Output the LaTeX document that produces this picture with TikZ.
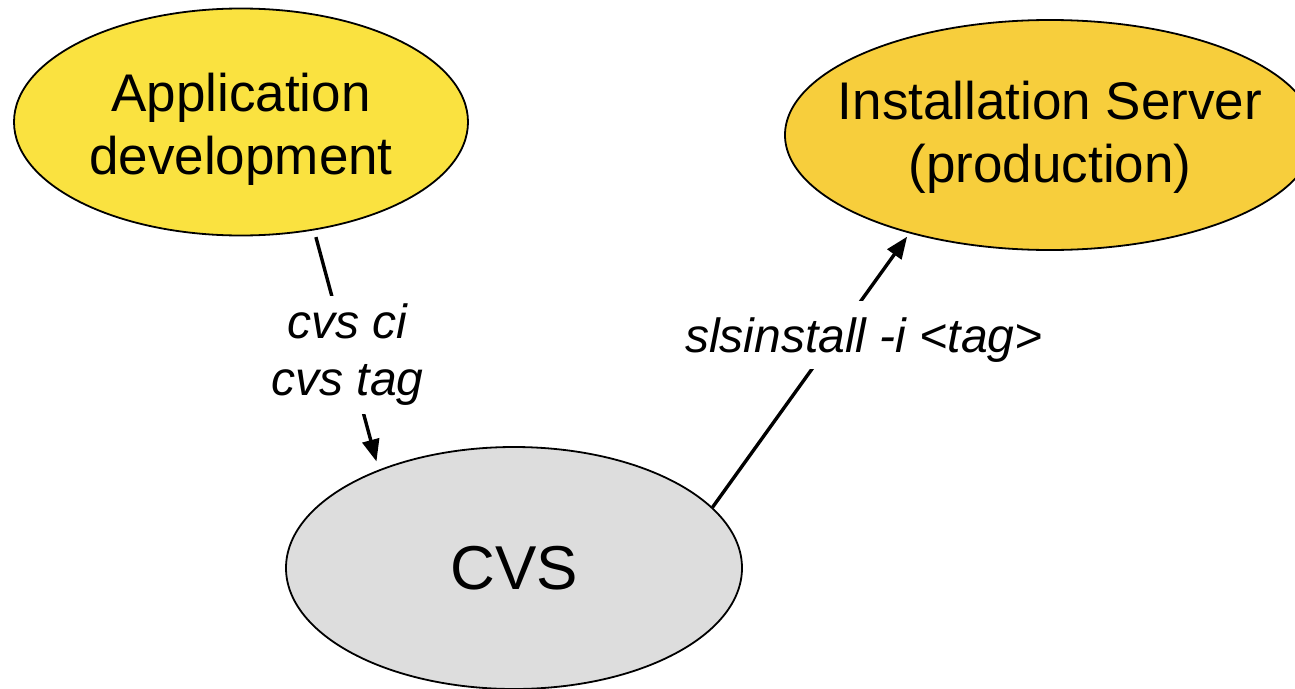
\documentclass[tikz,border=0pt]{standalone}
\usepackage{fontspec}
\setmainfont{Liberation Sans}
\usetikzlibrary{arrows.meta,shapes.geometric}
\definecolor{appyellow}{RGB}{250,226,64}
\definecolor{srvyellow}{RGB}{247,206,60}
\definecolor{repogray}{RGB}{221,221,221}
\begin{document}
\begin{tikzpicture}[x=1pt,y=-1pt,
  blob/.style={ellipse, draw=black, line width=1.8pt, inner sep=0pt},
  title/.style={align=center, inner sep=0pt, font=\fontsize{53}{63}\selectfont},
  flow/.style={line width=3.4pt, -{Triangle[length=22pt,width=17pt]}},
  cmd/.style={fill=white, inner xsep=4pt, inner ysep=8pt,
              font=\fontsize{48}{57}\selectfont\itshape, align=center}]
\clip (0,0) rectangle (1295,688);
\useasboundingbox (0,0) rectangle (1295,688);
\fill[white] (0,0) rectangle (1295,688);

% stages of the release flow
\node[blob, fill=appyellow, minimum width=454pt, minimum height=227pt] (app) at (241,122) {};
\node[title] (apptext) at (241,129.5) {Application\\development};

\node[blob, fill=srvyellow, minimum width=530pt, minimum height=230pt] (srv) at (1050,135) {};
\node[title] (srvtext) at (1050,137) {Installation Server\\(production)};

\node[blob, fill=repogray, minimum width=456pt, minimum height=242pt,
      font=\fontsize{62}{70}\selectfont] (cvs) at (514,568) {CVS};

% commands moving code between the stages
\draw[flow, shorten <=7pt, shorten >=8.5pt] (app.-56) -- (cvs.144)
  node[cmd, pos=0.52] (cilabel) {cvs ci\\cvs tag};

\draw[flow, shorten >=4pt] (cvs.17) -- (srv.215)
  node[cmd, text height=44pt, text depth=10pt, inner ysep=7pt] (instlabel) at (864,335) {slsinstall -i <tag>};
\end{tikzpicture}
\end{document}
